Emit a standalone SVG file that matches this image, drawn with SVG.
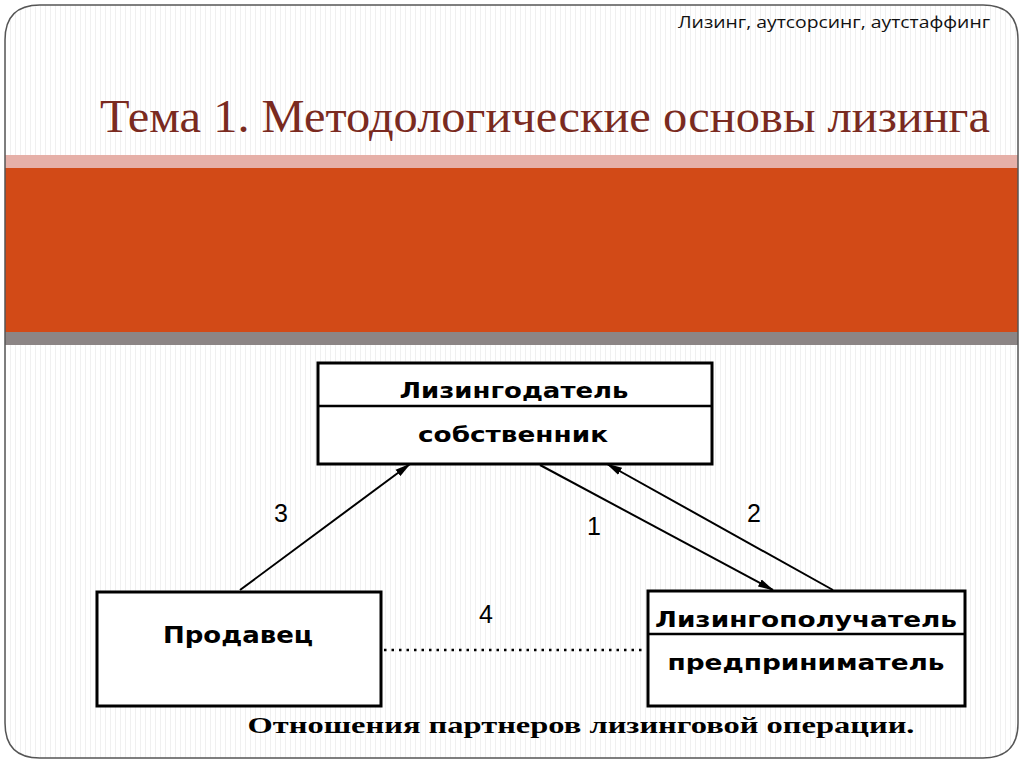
<svg xmlns="http://www.w3.org/2000/svg" width="1024" height="767" viewBox="0 0 1024 767">
<defs>
<pattern id="stripes" width="5" height="10" patternUnits="userSpaceOnUse">
<rect x="0" y="0" width="1" height="10" fill="#f0f0f0"/>
</pattern>
<marker id="ah" viewBox="0 0 16 10" refX="15" refY="5" markerWidth="16" markerHeight="10" markerUnits="userSpaceOnUse" orient="auto">
<path d="M0,1 L16,5 L0,9 Z" fill="#000"/>
</marker>
<clipPath id="frameClip">
<path d="M40,5 H983 Q1018,5 1018,40 V723 Q1018,758 983,758 H40 Q5,758 5,723 V40 Q5,5 40,5 Z"/>
</clipPath>
<style>
.box{fill:#fff;stroke:#000;stroke-width:3}
.div{stroke:#000;stroke-width:2.5}
.lbl{font-family:"DejaVu Sans","Liberation Sans",sans-serif;font-weight:bold;fill:#000;text-anchor:middle}
.num{font-family:"Liberation Sans",Arial,sans-serif;font-size:25px;fill:#000;text-anchor:middle}
.conn{stroke:#000;stroke-width:2;fill:none}
</style>
</defs>
<rect width="1024" height="767" fill="#fff"/>
<g id="frame">
<path d="M40,5 H983 Q1018,5 1018,40 V723 Q1018,758 983,758 H40 Q5,758 5,723 V40 Q5,5 40,5 Z" fill="url(#stripes)"/>
<g clip-path="url(#frameClip)">
<rect x="5" y="155" width="1013" height="13" fill="#e6b0a8"/>
<rect x="5" y="168" width="1013" height="164" fill="#d24a17"/>
<rect x="5" y="332" width="1013" height="13" fill="#8c8585"/>
</g>
<path d="M40,5 H983 Q1018,5 1018,40 V723 Q1018,758 983,758 H40 Q5,758 5,723 V40 Q5,5 40,5 Z" fill="none" stroke="#555" stroke-width="1.5"/>
</g>
<g id="header">
<text x="990" y="28" text-anchor="end" font-family="'Open Sans','Liberation Sans',sans-serif" font-size="17" fill="#111" textLength="312" lengthAdjust="spacingAndGlyphs">Лизинг, аутсорсинг, аутстаффинг</text>
<text x="100" y="132" font-family="'Liberation Serif','Times New Roman',serif" font-size="47" fill="#7a2a20" textLength="890" lengthAdjust="spacingAndGlyphs">Тема 1. Методологические основы лизинга</text>
</g>
<g id="connectors">
<line class="conn" x1="240" y1="590" x2="410" y2="464" marker-end="url(#ah)"/>
<line class="conn" x1="540" y1="465" x2="773" y2="590" marker-end="url(#ah)"/>
<line class="conn" x1="833" y1="590" x2="607" y2="464" marker-end="url(#ah)"/>
<line x1="384" y1="650" x2="646" y2="650" stroke="#000" stroke-width="2.5" stroke-dasharray="2.5,5"/>
<text class="num" x="281" y="522">3</text>
<text class="num" x="594" y="535">1</text>
<text class="num" x="754" y="522">2</text>
<text class="num" x="486" y="623">4</text>
</g>
<g id="lessor">
<rect class="box" x="318" y="363" width="394" height="101"/>
<line class="div" x1="318" y1="406" x2="712" y2="406"/>
<text class="lbl" x="514" y="398" font-size="22" textLength="229" lengthAdjust="spacingAndGlyphs">Лизингодатель</text>
<text class="lbl" x="513" y="442" font-size="22" textLength="190" lengthAdjust="spacingAndGlyphs">собственник</text>
</g>
<g id="seller">
<rect class="box" x="97" y="592" width="284" height="114"/>
<text class="lbl" x="238" y="643" font-size="23" textLength="150" lengthAdjust="spacingAndGlyphs">Продавец</text>
</g>
<g id="lessee">
<rect class="box" x="648" y="591" width="317" height="115"/>
<line class="div" x1="648" y1="634" x2="965" y2="634"/>
<text class="lbl" x="806" y="627" font-size="22" textLength="302" lengthAdjust="spacingAndGlyphs">Лизингополучатель</text>
<text class="lbl" x="806" y="670" font-size="22" textLength="277" lengthAdjust="spacingAndGlyphs">предприниматель</text>
</g>
<g id="caption">
<text x="581" y="733" text-anchor="middle" font-family="'Liberation Serif','Times New Roman',serif" font-weight="bold" font-size="23" fill="#000" textLength="667" lengthAdjust="spacingAndGlyphs">Отношения партнеров лизинговой операции.</text>
</g>
</svg>
